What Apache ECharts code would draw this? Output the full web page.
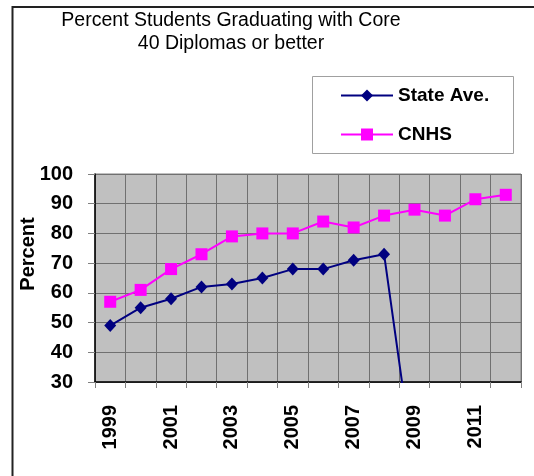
<!DOCTYPE html>
<html>
<head>
<meta charset="utf-8">
<script src="https://cdn.jsdelivr.net/npm/echarts@6/dist/echarts.min.js"></script>
<style>
  html, body { margin: 0; padding: 0; background: #fff; }
  #chart { width: 534px; height: 476px; }
</style>
</head>
<body>
<div id="chart"></div>
<script>
// data
var years = ['1999', '2000', '2001', '2002', '2003', '2004', '2005', '2006', '2007', '2008', '2009', '2010', '2011', '2012'];
var stateAve = [49, 55, 58, 62, 63, 65, 68, 68, 71, 73, 0, null, null, null];
var cnhs = [57, 61, 68, 73, 79, 80, 80, 84, 82, 86, 88, 86, 91.5, 93];

var chart = echarts.init(document.getElementById('chart'));

var option = {
  backgroundColor: '#ffffff',
  animation: false,
  textStyle: { fontFamily: 'Arial, "Liberation Sans", sans-serif' },
  graphic: [
    {
      // outer frame
      type: 'rect',
      shape: { x: 12.5, y: 7, width: 600, height: 600 },
      style: { fill: 'none', stroke: '#222', lineWidth: 2 },
      silent: true
    },
    {
      type: 'text',
      x: 231, y: 9,
      style: {
        text: 'Percent Students Graduating with Core\n40 Diplomas or better',
        fontFamily: 'Arial, "Liberation Sans", sans-serif',
        fontSize: 19.5,
        lineHeight: 23,
        fill: '#000',
        textAlign: 'center',
        textVerticalAlign: 'top'
      }
    },
    {
      type: 'text',
      x: 28, y: 254,
      rotation: Math.PI / 2,
      style: {
        text: 'Percent',
        fontFamily: 'Arial, "Liberation Sans", sans-serif',
        fontSize: 20,
        fontWeight: 'bold',
        fill: '#000',
        textAlign: 'center',
        textVerticalAlign: 'middle'
      }
    },
    {
      // legend box
      type: 'rect',
      shape: { x: 312.5, y: 76.5, width: 201, height: 77 },
      style: { fill: '#fff', stroke: '#a0a0a0', lineWidth: 1 },
      z: -1,
      silent: true
    }
  ],
  legend: {
    orient: 'vertical',
    left: 340,
    top: 86,
    padding: 0,
    itemGap: 20,
    itemWidth: 52,
    itemHeight: 15,
    textStyle: { fontSize: 19, fontWeight: 'bold', color: '#000' },
    data: ['State Ave.', 'CNHS']
  },
  grid: {
    left: 95,
    right: 13,
    top: 174,
    bottom: 94,
    show: true,
    backgroundColor: '#c0c0c0',
    borderColor: '#808080',
    borderWidth: 1
  },
  xAxis: {
    type: 'category',
    data: years,
    boundaryGap: true,
    axisLine: { lineStyle: { color: '#000', width: 1.5 } },
    axisTick: { show: true, interval: 0, length: 6, lineStyle: { color: '#808080' } },
    splitLine: { show: true, interval: 0, lineStyle: { color: '#707070', width: 1 } },
    axisLabel: {
      interval: 1,
      rotate: 90,
      margin: 23,
      fontSize: 20,
      fontWeight: 'bold',
      color: '#000'
    }
  },
  yAxis: {
    type: 'value',
    min: 30,
    max: 100,
    interval: 10,
    axisLine: { show: true, lineStyle: { color: '#000', width: 1.5 } },
    axisTick: { show: true, length: 7, lineStyle: { color: '#808080' } },
    splitLine: { show: true, lineStyle: { color: '#707070', width: 1 } },
    axisLabel: {
      margin: 22,
      fontSize: 20,
      fontWeight: 'bold',
      color: '#000'
    }
  },
  series: [
    {
      name: 'State Ave.',
      type: 'line',
      data: stateAve,
      clip: true,
      symbol: 'diamond',
      symbolSize: [12, 13],
      showAllSymbol: true,
      lineStyle: { color: '#000080', width: 2 },
      itemStyle: { color: '#000080' }
    },
    {
      name: 'CNHS',
      type: 'line',
      data: cnhs,
      clip: true,
      symbol: 'rect',
      symbolSize: 12,
      showAllSymbol: true,
      lineStyle: { color: '#ff00ff', width: 2 },
      itemStyle: { color: '#ff00ff' }
    }
  ]
};

chart.setOption(option);
</script>
</body>
</html>
